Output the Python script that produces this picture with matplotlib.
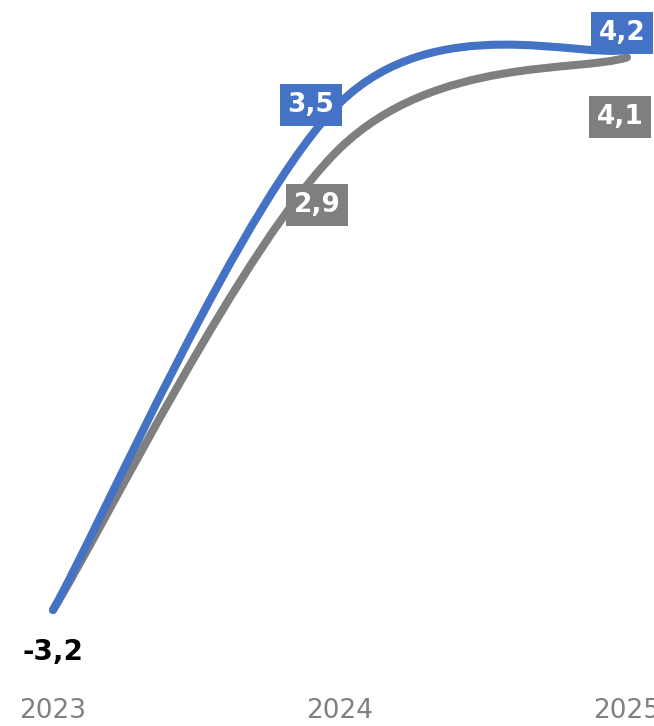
import matplotlib.pyplot as plt
from matplotlib.path import Path
from matplotlib.patches import PathPatch

years = ['2023', '2024', '2025']
blue_vals = [-3.2, 3.5, 4.2]
gray_vals = [-3.2, 2.9, 4.1]

BLUE = '#4472C4'
GRAY = '#7F7F7F'


def smooth_path(xs, ys):
	# Catmull-Rom style bezier through the points (ends duplicated)
	pts = list(zip(xs, ys))
	verts = [pts[0]]
	codes = [Path.MOVETO]
	for i in range(len(pts) - 1):
		p0 = pts[max(i - 1, 0)]
		p1 = pts[i]
		p2 = pts[i + 1]
		p3 = pts[min(i + 2, len(pts) - 1)]
		c1 = (p1[0] + (p2[0] - p0[0]) / 6, p1[1] + (p2[1] - p0[1]) / 6)
		c2 = (p2[0] - (p3[0] - p1[0]) / 6, p2[1] - (p3[1] - p1[1]) / 6)
		verts += [c1, c2, p2]
		codes += [Path.CURVE4] * 3
	return Path(verts, codes)


def fmt(v):
	return f'{v:.1f}'.replace('.', ',')


fig = plt.figure(figsize=(6.54, 7.26), dpi=100)
ax = fig.add_axes([0, 36 / 726, 1, 690 / 726])

xs = list(range(len(years)))
for vals, color, z in [(gray_vals, GRAY, 2), (blue_vals, BLUE, 3)]:
	patch = PathPatch(smooth_path(xs, vals), facecolor='none', edgecolor=color,
		lw=5.8, capstyle='round', joinstyle='round', zorder=z)
	ax.add_patch(patch)

# data labels: (series, index, colour, offset in pixels)
boxed = [
	(blue_vals, 1, BLUE, (-29, -2)),
	(gray_vals, 1, GRAY, (-23, -57)),
	(blue_vals, 2, BLUE, (-5, 17)),
	(gray_vals, 2, GRAY, (-7, -60)),
]
for vals, i, color, off in boxed:
	ax.annotate(fmt(vals[i]), (i, vals[i]), xytext=off, textcoords='offset pixels',
		ha='center', va='center', color='white', fontsize=19, fontweight='bold',
		bbox=dict(boxstyle='square,pad=0.3', fc=color, ec='none'), zorder=5)

ax.annotate(fmt(blue_vals[0]), (0, blue_vals[0]), xytext=(0, -42), textcoords='offset pixels',
	ha='center', va='center', color='black', fontsize=20, fontweight='bold', zorder=5)

ax.set_xlim(-53 / 287, 2 + 27 / 287)
ax.set_ylim(-3.2 - 80 / 75.7, -3.2 + 610 / 75.7)
ax.set_xticks(xs, years)
ax.set_yticks([])
ax.tick_params(axis='x', length=0, pad=6, labelsize=19, labelcolor='#808080')
for s in ax.spines.values():
	s.set_visible(False)

fig.savefig('out.png', dpi=100)
